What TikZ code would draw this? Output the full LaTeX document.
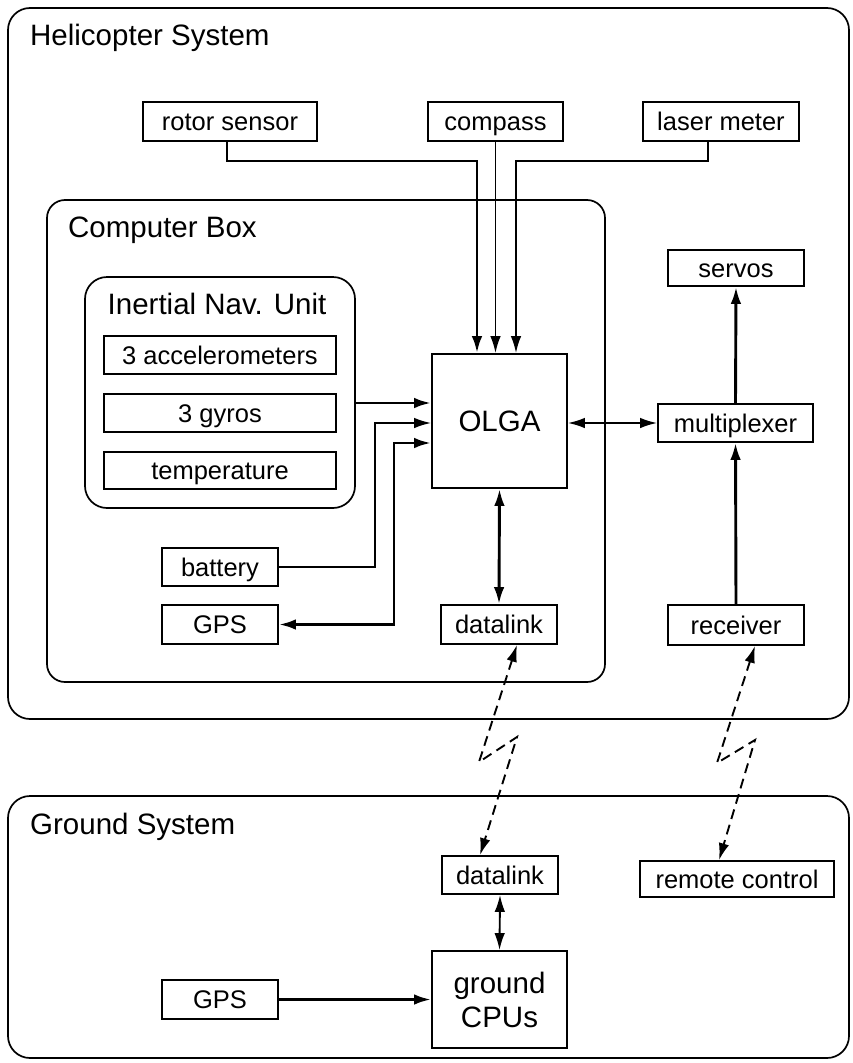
\documentclass[tikz,border=0pt]{standalone}
\usepackage{fontspec}
\setmainfont{Liberation Sans}
\usetikzlibrary{arrows.meta}
\tikzset{
  sbox/.style={draw, line width=1.7pt, inner sep=0pt, text height=18.3pt, text depth=0pt, font=\fontsize{25.5}{30}\selectfont},
  bbox/.style={draw, line width=1.7pt, inner sep=0pt, align=center, font=\fontsize{29.5}{34}\selectfont},
  ttl/.style={anchor=base west, inner sep=0pt, font=\fontsize{29.5}{34}\selectfont},
  cont/.style={draw, line width=1.7pt},
  tip/.tip={Latex[length=17pt,width=10.5pt]},
  thin/.style={line width=1.9pt, -tip},
  thick/.style={line width=2.9pt, -tip},
  both/.style={tip-tip},
  radio/.style={line width=1.9pt, dash pattern=on 10pt off 6pt, both, miter limit=10}
}
\begin{document}
\begin{tikzpicture}[x=1pt,y=-1pt]
\useasboundingbox (0,0) rectangle (852,1063);
% containers
\draw[cont, rounded corners=22pt] (8,8) rectangle (849,719);
\draw[cont, rounded corners=18pt] (47,200) rectangle (605,682);
\draw[cont, rounded corners=22pt] (8,796) rectangle (849,1058);
\node[draw, line width=1.7pt, rounded corners=22pt, minimum width=270pt, minimum height=231pt, inner sep=0pt] (inu) at (220,392.5) {};
% titles
\node[ttl] (thel) at (30,45) {Helicopter System};
\node[ttl] (tcb) at (68,237) {Computer Box};
\node[ttl, anchor=base] (tinu) at (217,314) {Inertial Nav. Unit};
\node[ttl] (tgr) at (30,834) {Ground System};
% boxes
\node[sbox, minimum width=174pt, minimum height=39pt] (rotor) at (230,121.5) {rotor sensor};
\node[sbox, minimum width=135pt, minimum height=39pt] (compass) at (495.5,121.5) {compass};
\node[sbox, minimum width=156pt, minimum height=39pt] (laser) at (721,121.5) {laser meter};
\node[sbox, minimum width=136pt, minimum height=36pt] (servos) at (736,268) {servos};
\node[sbox, minimum width=155pt, minimum height=38pt] (mux) at (735.5,423) {multiplexer};
\node[bbox, minimum width=135pt, minimum height=134pt] (olga) at (499.5,421) {OLGA};
\node[sbox, minimum width=232pt, minimum height=38pt] (acc) at (220,355) {3 accelerometers};
\node[sbox, minimum width=232pt, minimum height=38pt] (gyro) at (220,413) {3 gyros};
\node[sbox, minimum width=232pt, minimum height=37pt] (temp) at (220,470.5) {temperature};
\node[sbox, minimum width=116pt, minimum height=38pt] (bat) at (220,567) {battery};
\node[sbox, minimum width=116pt, minimum height=39pt] (gps) at (220,624.5) {GPS};
\node[sbox, minimum width=116pt, minimum height=39pt] (dl) at (499,624.5) {datalink};
\node[sbox, minimum width=136pt, minimum height=40pt] (rx) at (736,625) {receiver};
\node[sbox, minimum width=116pt, minimum height=38pt] (gdl) at (500,875) {datalink};
\node[sbox, minimum width=194pt, minimum height=36pt] (rc) at (737,879) {remote control};
\node[bbox, minimum width=135pt, minimum height=97pt] (cpu) at (499.5,999.5) {ground\\CPUs};
\node[sbox, minimum width=116pt, minimum height=39pt] (ggps) at (220,999.5) {GPS};
% connector helpers
\coordinate (inA) at ([yshift=18pt]olga.west);
\coordinate (inB) at ([yshift=-2pt]olga.west);
\coordinate (inC) at ([yshift=-22pt]olga.west);
\coordinate (rj) at (477,161);
\coordinate (lj) at (516,161);
\coordinate (k1) at (479,762);
\coordinate (k2) at (517,737);
\coordinate (k3) at (717,763);
\coordinate (k4) at (755,740);
% connectors
\draw[thick] ([xshift=-3pt]rotor.south) |- (rj) -- ([xshift=-22.5pt]olga.north);
\draw[thin] (compass.south) -- (compass.south |- olga.north);
\draw[thin] ([xshift=-13pt]laser.south) |- (lj) -- ([xshift=16.5pt]olga.north);
\draw[thick] (inA -| inu.east) -- (inA);
\draw[thin] (bat.east) -| (375,423) -- (inB);
\draw[thick, both] (gps.east) -| (394,443) -- (inC);
\draw[thick, both] (olga.south) -- (dl.north);
\draw[thin, both] (olga.east |- mux.west) -- (mux.west);
\draw[thick] (mux.north) -- (servos.south);
\draw[thick] (rx.north) -- (mux.south);
\draw[radio] ([xshift=18pt]dl.south) -- (k1) -- (k2) -- ([xshift=-20pt]gdl.north);
\draw[radio] ([xshift=19pt]rx.south) -- (k3) -- (k4) -- ([xshift=-18pt]rc.north);
\draw[thin, both] (gdl.south) -- (cpu.north);
\draw[thick] (ggps.east) -- (cpu.west);
\end{tikzpicture}
\end{document}
